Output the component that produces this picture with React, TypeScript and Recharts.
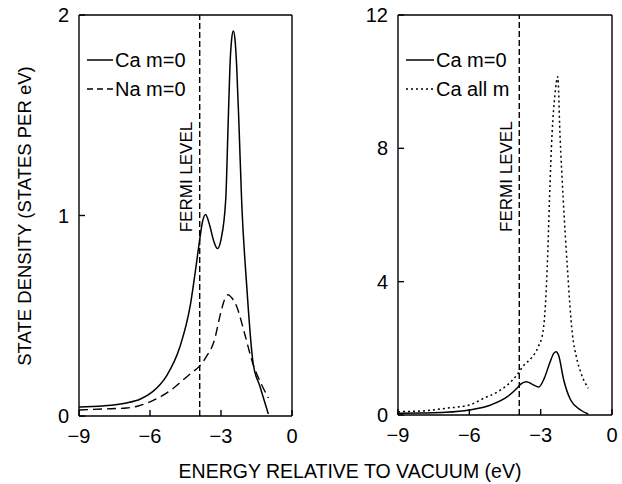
import React from 'react';
import { LineChart, Line, XAxis, YAxis, ReferenceLine } from 'recharts';

const FONT = '"Liberation Sans", Arial, Helvetica, sans-serif';

// Axis ticks
const energyTicks = [-9, -6, -3, 0];
const leftDensityTicks = [0, 1, 2];
const rightDensityTicks = [0, 4, 8, 12];
const fermiLevel = -3.9;

// Left panel: Ca m=0
const caLeftEnergy = [-9, -8, -7, -6.4, -5.9, -5.3, -4.75, -4.3, -4.05, -3.9, -3.78, -3.65, -3.5, -3.3, -3.15, -3.0, -2.8, -2.7, -2.62, -2.55, -2.48, -2.41, -2.34, -2.24, -2.13, -1.92, -1.64, -1.36, -1.0];
const caLeftDensity = [0.045, 0.05, 0.065, 0.085, 0.12, 0.2, 0.34, 0.55, 0.75, 0.88, 0.97, 1.005, 0.96, 0.87, 0.835, 0.88, 1.08, 1.45, 1.75, 1.88, 1.92, 1.88, 1.75, 1.45, 1.08, 0.66, 0.26, 0.15, 0.01];

// Left panel: Na m=0
const naLeftEnergy = [-9, -8, -7, -6.5, -6, -5.5, -5, -4.7, -4.3, -3.9, -3.6, -3.3, -3.0, -2.85, -2.7, -2.55, -2.35, -2.0, -1.65, -1.3, -1.0];
const naLeftDensity = [0.03, 0.035, 0.04, 0.05, 0.07, 0.1, 0.14, 0.17, 0.21, 0.25, 0.3, 0.37, 0.52, 0.58, 0.605, 0.59, 0.55, 0.41, 0.26, 0.16, 0.09];

// Right panel: Ca all m
const caAllEnergy = [-9, -8, -7, -6, -5.4, -4.8, -4.4, -4.0, -3.7, -3.4, -3.1, -2.9, -2.8, -2.7, -2.63, -2.52, -2.4, -2.28, -2.19, -2.05, -1.88, -1.67, -1.5, -1.3, -1.0];
const caAllDensity = [0.1, 0.12, 0.2, 0.3, 0.5, 0.7, 0.9, 1.2, 1.5, 1.7, 2.05, 2.5, 3.3, 4.9, 6.45, 8.45, 9.6, 10.15, 8.45, 6.45, 4.45, 2.45, 1.75, 1.25, 0.8];

// Right panel: Ca m=0
const caRightEnergy = [-9, -8, -7, -6, -5.1, -4.4, -4.0, -3.85, -3.6, -3.35, -3.08, -2.85, -2.6, -2.45, -2.35, -2.25, -2.03, -1.74, -1.32, -1.0];
const caRightDensity = [0.05, 0.06, 0.08, 0.15, 0.3, 0.55, 0.8, 0.92, 1.0, 0.92, 0.84, 1.1, 1.6, 1.85, 1.9, 1.8, 1.05, 0.45, 0.15, 0.03];

const leftLegend = ['Ca m=0', 'Na m=0'];
const rightLegend = ['Ca m=0', 'Ca all m'];
const xTitle = 'ENERGY RELATIVE TO VACUUM (eV)';
const yTitle = 'STATE DENSITY (STATES PER eV)';
const fermiText = 'FERMI LEVEL';

const zip = (e: number[], d: number[]) => e.map((v, i) => ({ e: v, d: d[i] }));

const fmt = (v: number) => (v < 0 ? '\u2212' + Math.abs(v) : String(v));
const SW = 1.4;
const TICK = 6;

const BottomTick = (p: any) => (
  <g>
    <line x1={p.x} x2={p.x} y1={p.y} y2={p.y - TICK} stroke="#000" strokeWidth={SW} />
    <text x={p.x} y={p.y + 27} textAnchor="middle" fontSize={20} fontFamily={FONT} fill="#000">{fmt(p.payload.value)}</text>
  </g>
);
const TopTick = (p: any) => (
  <line x1={p.x} x2={p.x} y1={p.y} y2={p.y + TICK} stroke="#000" strokeWidth={SW} />
);
const LeftTick = (p: any) => (
  <g>
    <line x1={p.x} x2={p.x + TICK} y1={p.y} y2={p.y} stroke="#000" strokeWidth={SW} />
    <text x={p.x - 10} y={p.y + 7} textAnchor="end" fontSize={20} fontFamily={FONT} fill="#000">{fmt(p.payload.value)}</text>
  </g>
);
const RightTick = (p: any) => (
  <line x1={p.x} x2={p.x - TICK} y1={p.y} y2={p.y} stroke="#000" strokeWidth={SW} />
);

const fermiLabel = (p: any) => {
  const vb = p.viewBox || {};
  const cx = (vb.x || 0) - 13;
  const cy = (vb.y || 0) + (vb.height || 0) * 0.404;
  return (
    <text x={cx} y={cy} transform={`rotate(-90 ${cx} ${cy})`} textAnchor="middle" dominantBaseline="central" fontSize={17} fontFamily={FONT} fill="#000">
      {fermiText}
    </text>
  );
};

const axisLine = { stroke: '#000', strokeWidth: SW };

function Panel(props: { width: number; leftW: number; rightW: number; bottomH: number; yMax: number; yTicks: number[]; children: React.ReactNode }) {
  const { width, leftW, rightW, bottomH, yMax, yTicks, children } = props;
  return (
    <LineChart width={width} height={484} margin={{ top: 0, right: 0, bottom: 0, left: 0 }}>
      <XAxis xAxisId="b" type="number" dataKey="e" domain={[-9, 0]} ticks={energyTicks} orientation="bottom" height={bottomH} tickSize={0} tickMargin={0} tickLine={false} axisLine={axisLine} tick={BottomTick} allowDataOverflow />
      <XAxis xAxisId="t" type="number" dataKey="e" domain={[-9, 0]} ticks={energyTicks} orientation="top" height={15} tickSize={0} tickMargin={0} tickLine={false} axisLine={axisLine} tick={TopTick} />
      <YAxis yAxisId="l" type="number" domain={[0, yMax]} ticks={yTicks} orientation="left" width={leftW} tickSize={0} tickMargin={0} tickLine={false} axisLine={axisLine} tick={LeftTick} allowDataOverflow />
      <YAxis yAxisId="r" type="number" domain={[0, yMax]} ticks={yTicks} orientation="right" width={rightW} tickSize={0} tickMargin={0} tickLine={false} axisLine={axisLine} tick={RightTick} />
      <ReferenceLine xAxisId="b" yAxisId="l" x={fermiLevel} stroke="#000" strokeWidth={1.4} strokeDasharray="6 3" label={fermiLabel} />
      {children}
    </LineChart>
  );
}

export default function App() {
  return (
    <div style={{ position: 'absolute', left: 0, top: 0, width: 622, height: 484, background: '#fff', fontFamily: FONT }}>
      <div style={{ position: 'absolute', left: 0, top: 0 }}>
        <Panel width={310} leftW={79} rightW={18} bottomH={68} yMax={2} yTicks={leftDensityTicks}>
          <Line xAxisId="b" yAxisId="l" data={zip(caLeftEnergy, caLeftDensity)} dataKey="d" name={leftLegend[0]} type="monotone" stroke="#000" strokeWidth={1.5} dot={false} isAnimationActive={false} />
          <Line xAxisId="b" yAxisId="l" data={zip(naLeftEnergy, naLeftDensity)} dataKey="d" name={leftLegend[1]} type="monotone" stroke="#000" strokeWidth={1.4} strokeDasharray="9 5" dot={false} isAnimationActive={false} />
        </Panel>
      </div>
      <div style={{ position: 'absolute', left: 320, top: 0 }}>
        <Panel width={302} leftW={78} rightW={10} bottomH={69} yMax={12} yTicks={rightDensityTicks}>
          <Line xAxisId="b" yAxisId="l" data={zip(caRightEnergy, caRightDensity)} dataKey="d" name={rightLegend[0]} type="monotone" stroke="#000" strokeWidth={1.5} dot={false} isAnimationActive={false} />
          <Line xAxisId="b" yAxisId="l" data={zip(caAllEnergy, caAllDensity)} dataKey="d" name={rightLegend[1]} type="monotone" stroke="#000" strokeWidth={1.5} strokeDasharray="2 3" dot={false} isAnimationActive={false} />
        </Panel>
      </div>
      <svg width={622} height={484} style={{ position: 'absolute', left: 0, top: 0, pointerEvents: 'none' }}>
        <g fontFamily={FONT} fontSize={20} fill="#000">
          <line x1={87} x2={113} y1={60} y2={60} stroke="#000" strokeWidth={1.5} />
          <text x={115} y={67}>{leftLegend[0]}</text>
          <line x1={87} x2={113} y1={89} y2={89} stroke="#000" strokeWidth={1.4} strokeDasharray="6 4" />
          <text x={115} y={96}>{leftLegend[1]}</text>
          <line x1={406} x2={434} y1={60} y2={60} stroke="#000" strokeWidth={1.5} />
          <text x={436} y={67}>{rightLegend[0]}</text>
          <line x1={406} x2={434} y1={89} y2={89} stroke="#000" strokeWidth={1.5} strokeDasharray="2 3" />
          <text x={436} y={96}>{rightLegend[1]}</text>
        </g>
        <text x={350} y={478} textAnchor="middle" fontFamily={FONT} fontSize={19.5} fill="#000">{xTitle}</text>
        <text x={31} y={216} transform="rotate(-90 31 216)" textAnchor="middle" fontFamily={FONT} fontSize={18.5} fill="#000">{yTitle}</text>
      </svg>
    </div>
  );
}
